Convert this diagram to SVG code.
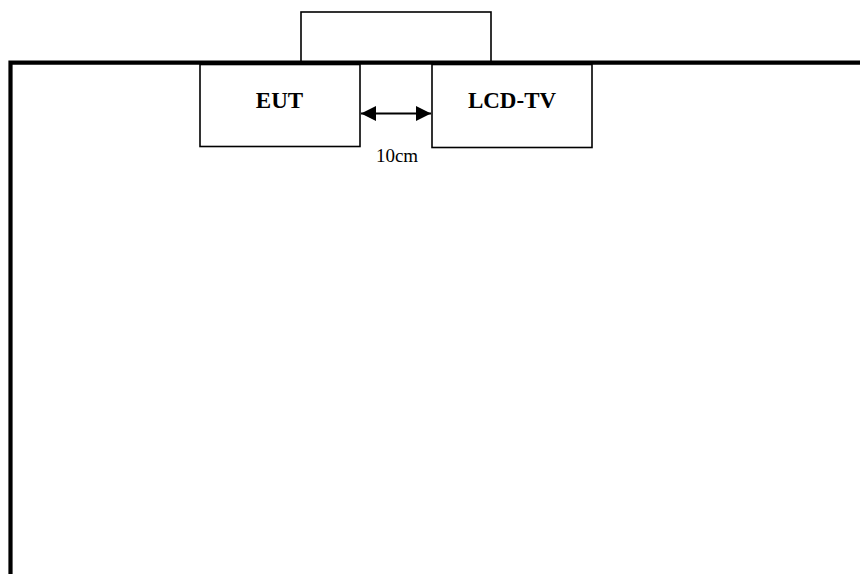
<svg xmlns="http://www.w3.org/2000/svg" width="860" height="574" viewBox="0 0 860 574">
<style>
.box{fill:#fff;stroke:#000;stroke-width:1.6}
.wall{fill:none;stroke:#000;stroke-width:4.2}
.lbl{font-family:"Liberation Serif","Times New Roman",serif;font-weight:bold;font-size:23px;text-anchor:middle;fill:#000}
.dim{font-family:"Liberation Serif","Times New Roman",serif;font-size:19px;text-anchor:middle;fill:#000}
</style>
<defs>
<marker id="ah" markerWidth="15" markerHeight="15" refX="15" refY="7.5" orient="auto-start-reverse" markerUnits="userSpaceOnUse">
<path d="M0,0 L15,7.5 L0,15 Z" fill="#000"/>
</marker>
</defs>
<rect width="860" height="574" fill="#fff"/>
<g id="table">
<rect class="box" x="301" y="12" width="190" height="51"/>
</g>
<g id="wall">
<path class="wall" d="M10.5,574 L10.5,62.7 L860,62.7"/>
</g>
<g id="eut">
<rect class="box" x="200" y="64.5" width="160" height="82"/>
<text class="lbl" x="279.5" y="107.7">EUT</text>
</g>
<g id="lcdtv">
<rect class="box" x="432" y="64.5" width="160" height="83"/>
<text class="lbl" x="512" y="107.7">LCD-TV</text>
</g>
<g id="connectors">
<line x1="361" y1="113.5" x2="431" y2="113.5" stroke="#000" stroke-width="2" marker-start="url(#ah)" marker-end="url(#ah)"/>
<text class="dim" x="397" y="161.7">10cm</text>
</g>
</svg>
